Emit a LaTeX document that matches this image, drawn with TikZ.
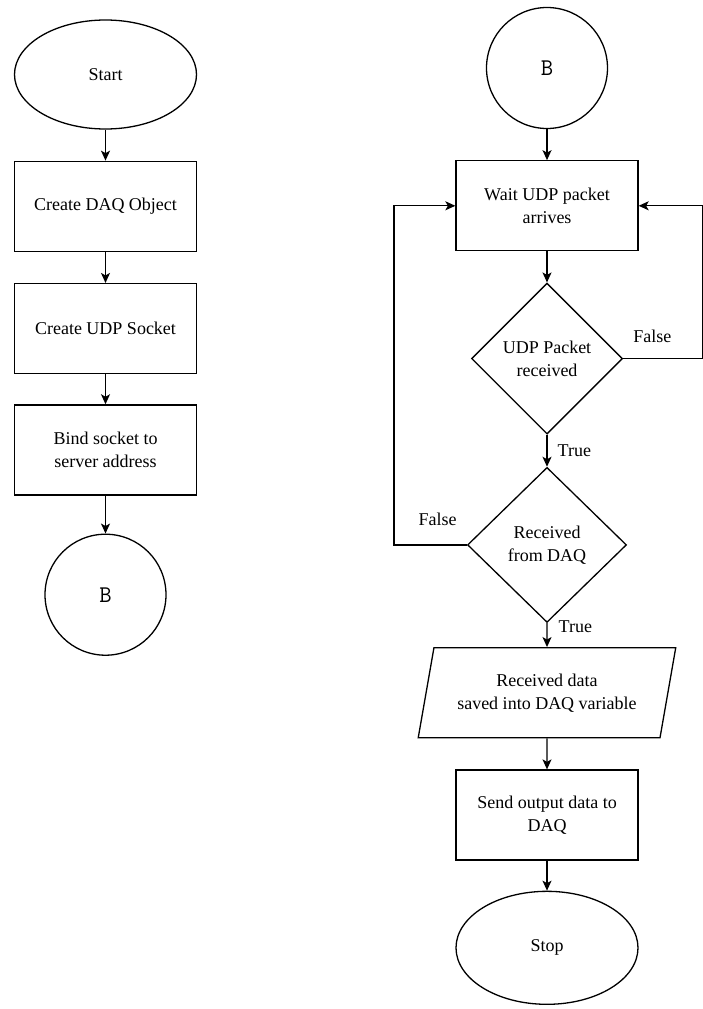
\documentclass[tikz,border=0pt]{standalone}
\usepackage{fontspec}
\setmainfont{Liberation Serif}
\usetikzlibrary{arrows.meta,positioning,shapes.geometric}

\begin{document}
\begin{tikzpicture}[
    x=1pt, y=-1pt,
    font=\fontsize{18}{23}\selectfont,
    line width=1.3pt,
    proc/.style={draw, rectangle, minimum width=182pt, minimum height=90pt,
                 align=center, inner sep=2pt},
    term/.style={draw, ellipse, minimum width=182pt, minimum height=109pt, inner sep=0pt},
    conn/.style={draw, circle, minimum size=121pt, inner sep=0pt,
                 font=\fontsize{24}{28}\selectfont\ttfamily},
    dec/.style={draw, diamond, aspect=1, align=center, inner sep=0pt},
    io/.style={draw, trapezium, trapezium left angle=72, trapezium right angle=108,
               trapezium stretches=true, minimum width=258pt, minimum height=90pt,
               align=center, inner sep=0pt},
    lbl/.style={inner sep=0pt},
    >={Stealth[length=10pt,width=9pt,inset=2.5pt]}, node distance=31pt,
    ]
\useasboundingbox (0,0) rectangle (703,1009);

% left column: setup
\node[term] (start) at (105.5,74.5) {Start};
\node[proc, below=of start] (daq) {Create DAQ Object};
\node[proc, below=of daq] (sock) {Create UDP Socket};
\node[proc, below=30pt of sock] (bind) {Bind socket to\\server address};
\node[conn, below=38pt of bind] (bl) {B};

% right column: receive loop
\node[conn] (br) at (547,68) {B};
\node[proc, below=of br] (wait) {Wait UDP packet\\arrives};
\node[dec, below=of wait, minimum size=151pt] (pkt) {UDP Packet\\received};
\node[dec, below=32pt of pkt, minimum width=159pt, minimum height=155pt] (fromdaq)
     {Received\\from DAQ};
\node[io, below=24pt of fromdaq] (save) {Received data\\saved into DAQ variable};
\node[proc, below=of save] (send) {Send output data to\\DAQ};
\node[term, below=30pt of send, minimum height=113pt] (stop) {Stop};

\draw[->] (start) -- (daq);
\draw[->] (daq) -- (sock);
\draw[->] (sock) -- (bind);
\draw[->] (bind) -- (bl);

\draw[->] (br) -- (wait);
\draw[->] (wait) -- (pkt);
\draw[->] (pkt) -- (fromdaq) node[lbl, midway, right=10pt] {True};
\draw[->] (fromdaq) -- (save) node[lbl, pos=0.15, right=11pt] {True};
\draw[->] (save) -- (send);
\draw[->] (send) -- (stop);

% false branches back to the wait box
\draw[->] (pkt.east) -- ++(79,0) node[lbl, pos=0.37, above=15pt] {False} |- (wait.east);
\draw[->] (fromdaq.west) -- ++(-73,0) node[lbl, pos=0.4, above=19pt] {False} |- (wait.west);
\end{tikzpicture}
\end{document}
